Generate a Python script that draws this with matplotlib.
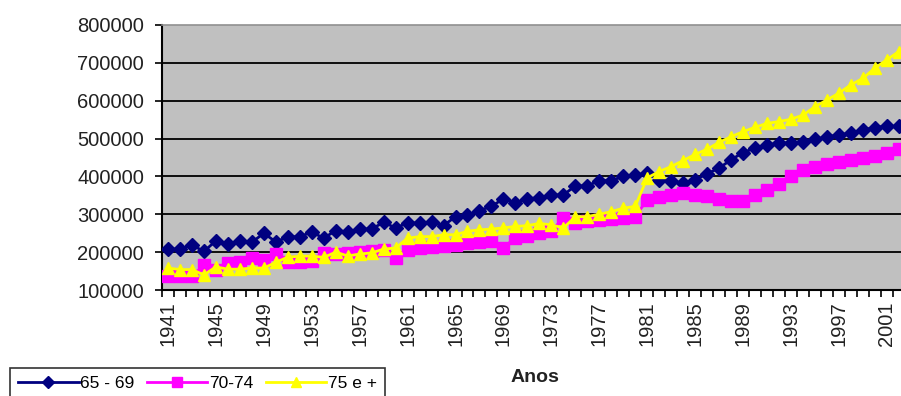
import numpy as np
import matplotlib
matplotlib.use('Agg')
import matplotlib.pyplot as plt
from matplotlib.ticker import FixedLocator

plt.rcParams['font.family'] = ['Liberation Sans', 'DejaVu Sans']

years = np.arange(1941, 2003)

idade_65_69 = [208000, 208000, 219000, 202000, 230000, 221000, 230000, 226000, 250000, 227000,
               240000, 241000, 253000, 237000, 257000, 254000, 261000, 261000, 279000, 264000,
               277000, 277000, 279000, 270000, 294000, 299000, 310000, 321000, 341000, 331000,
               341000, 344000, 351000, 351000, 375000, 375000, 389000, 389000, 400000, 404000,
               408000, 391000, 387000, 383000, 391000, 407000, 422000, 444000, 463000, 475000,
               483000, 488000, 489000, 492000, 498000, 504000, 510000, 514000, 523000, 529000,
               533000, 532000]

idade_70_74 = [136000, 137000, 137000, 165000, 152000, 172000, 174000, 185000, 178000, 196000,
               173000, 174000, 176000, 198000, 196000, 198000, 200000, 202000, 205000, 185000,
               205000, 210000, 213000, 217000, 220000, 224000, 227000, 229000, 212000, 238000,
               243000, 250000, 255000, 291000, 278000, 281000, 284000, 287000, 291000, 294000,
               338000, 345000, 351000, 356000, 352000, 347000, 340000, 334000, 334000, 350000,
               365000, 380000, 400000, 418000, 425000, 432000, 438000, 444000, 449000, 455000,
               462000, 472000]

idade_75_mais = [158000, 154000, 154000, 140000, 161000, 155000, 155000, 158000, 158000, 173000,
                 187000, 189000, 190000, 186000, 200000, 190000, 195000, 198000, 208000, 211000,
                 237000, 241000, 241000, 246000, 246000, 255000, 259000, 261000, 264000, 268000,
                 270000, 276000, 272000, 264000, 293000, 294000, 300000, 307000, 316000, 321000,
                 396000, 413000, 426000, 442000, 458000, 472000, 490000, 505000, 518000, 530000,
                 540000, 545000, 551000, 562000, 584000, 602000, 620000, 642000, 659000, 686000,
                 708000, 730000]

y_ticks = [100000, 200000, 300000, 400000, 500000, 600000, 700000, 800000]
x_label_years = list(range(1941, 2003, 4))

fig = plt.figure(figsize=(9.01, 3.96), dpi=100)
ax = fig.add_axes([162 / 901, 1 - 290 / 396, 739 / 901, 265 / 396])
ax.set_facecolor('#c0c0c0')

for v in y_ticks[1:-1]:
    ax.axhline(v, color='black', lw=1.3, zorder=1)

ax.plot(years, idade_65_69, color='#000080', marker='D', markersize=7.5, lw=2,
        label='65 - 69', zorder=3)
ax.plot(years, idade_70_74, color='#ff00ff', marker='s', markersize=9, lw=2,
        label='70-74', zorder=3)
ax.plot(years, idade_75_mais, color='#ffff00', marker='^', markersize=9, lw=2,
        label='75 e +', zorder=3)

ax.set_xlim(1940.5, 1940.5 + 739 / 11.98)
ax.set_ylim(100000, 800000)

ax.set_yticks(y_ticks)
ax.set_yticklabels([str(v) for v in y_ticks])
ax.tick_params(axis='y', direction='out', length=5, width=1.2, pad=8, labelsize=14.5,
               colors='black', labelcolor='#222222')

ax.set_xticks(x_label_years)
ax.set_xticklabels([str(y) for y in x_label_years], rotation=90)
ax.xaxis.set_minor_locator(FixedLocator(np.arange(1940.5, 2003, 1)))
ax.tick_params(axis='x', which='major', length=0, pad=8, labelsize=14.5, labelcolor='#222222')
ax.tick_params(axis='x', which='minor', direction='out', length=5, width=1.2)

for s in ['left', 'bottom']:
    ax.spines[s].set_color('black')
    ax.spines[s].set_linewidth(1.5)
ax.spines['top'].set_color('#909090')
ax.spines['top'].set_linewidth(1.2)
ax.spines['right'].set_visible(False)

fig.text(535 / 901, 1 - 378 / 396, 'Anos', ha='center', va='center',
         fontsize=14, fontweight='bold', color='#222222')

leg = fig.legend(loc='upper left', bbox_to_anchor=(10 / 901, 1 - 368 / 396), ncol=3,
                 frameon=True, fancybox=False, edgecolor='black', fontsize=12.5,
                 handlelength=3.5, handletextpad=0.1, columnspacing=0.7,
                 borderpad=0.45, borderaxespad=0, markerscale=0.85)
leg.get_frame().set_linewidth(1.2)

fig.savefig('out.png', dpi=100)
